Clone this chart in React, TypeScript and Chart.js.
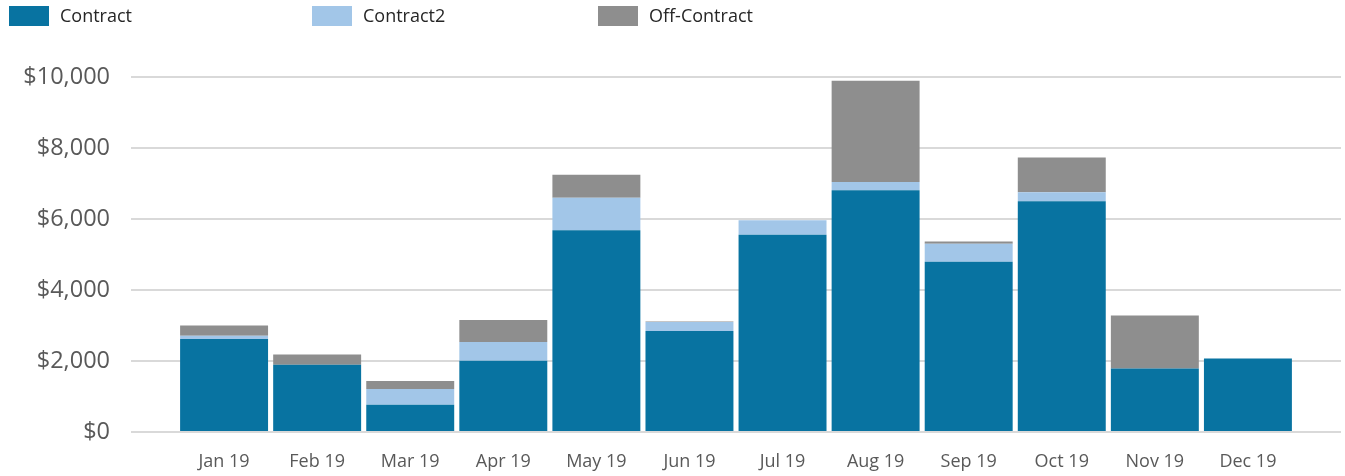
import React, { useEffect, useRef } from "react";
import { Chart, registerables } from "chart.js";

Chart.register(...registerables);

const months = ["Jan 19", "Feb 19", "Mar 19", "Apr 19", "May 19", "Jun 19", "Jul 19", "Aug 19", "Sep 19", "Oct 19", "Nov 19", "Dec 19"];
const contract = [2620, 1895, 770, 2010, 5680, 2845, 5558, 6810, 4795, 6500, 1790, 2068];
const contract2 = [93, 0, 440, 525, 920, 254, 410, 235, 505, 255, 0, 0];
const offContract = [287, 290, 225, 620, 650, 15, 0, 2850, 65, 975, 1490, 0];
const seriesNames = ["Contract", "Contract2", "Off-Contract"];
const seriesColors = ["#0873A1", "#A2C6E8", "#8E8E8E"];
const yTickValues = [0, 2000, 4000, 6000, 8000, 10000];

const FONT = "'Open Sans', 'Noto Sans', sans-serif";
const W = 1345;
const H = 476;
const legendX = [9, 312, 598];

const pad = (arr: (number | null)[]) => [null, ...arr, null];

const legendPlugin = {
  id: "fixedLegend",
  afterDraw(chart: any) {
    const ctx = chart.ctx;
    ctx.save();
    ctx.font = `18px ${FONT}`;
    ctx.textBaseline = "middle";
    ctx.textAlign = "left";
    seriesNames.forEach((name, i) => {
      const x = legendX[i];
      ctx.fillStyle = seriesColors[i];
      ctx.fillRect(x, 6, 40, 20);
      ctx.fillStyle = "#262626";
      ctx.fillText(name, x + 51, 16.5);
    });
    ctx.restore();
  },
};

export default function App() {
  const ref = useRef<HTMLCanvasElement | null>(null);

  useEffect(() => {
    if (!ref.current) return;
    const values = [contract, contract2, offContract];
    const chart = new Chart(ref.current, {
      type: "bar",
      data: {
        labels: ["", ...months, ""],
        datasets: seriesNames.map((name, i) => ({
          label: name,
          data: pad(values[i]),
          backgroundColor: seriesColors[i],
          borderWidth: 0,
          categoryPercentage: 1,
          barPercentage: 0.945,
        })),
      },
      options: {
        responsive: false,
        animation: false,
        layout: { padding: { top: 77, right: 4, bottom: 0, left: 0 } },
        plugins: {
          legend: { display: false },
          tooltip: { enabled: false },
        },
        scales: {
          x: {
            stacked: true,
            offset: false,
            grid: { display: false, drawTicks: false },
            border: { display: false },
            ticks: {
              autoSkip: false,
              maxRotation: 0,
              padding: 19,
              color: "#595959",
              font: { family: FONT, size: 18 },
            },
            afterFit(scale: any) {
              scale.height = 44;
              scale.paddingLeft = 0;
              scale.paddingRight = 0;
            },
          },
          y: {
            stacked: true,
            min: 0,
            max: 10000,
            afterBuildTicks(scale: any) {
              scale.ticks = yTickValues.map((v) => ({ value: v }));
            },
            grid: { color: "#D9D9D9", lineWidth: 2, drawTicks: false },
            border: { display: false },
            ticks: {
              padding: 21,
              color: "#595959",
              font: { family: FONT, size: 23.5 },
              callback: (v: any) => "$" + Number(v).toLocaleString("en-US"),
            },
            afterFit(scale: any) {
              scale.width = 131;
            },
          },
        },
      },
      plugins: [legendPlugin],
    });
    return () => chart.destroy();
  }, []);

  return (
    <div style={{ position: "absolute", left: 0, top: 0, width: W, height: H, background: "#fff" }}>
      <canvas ref={ref} width={W} height={H} style={{ display: "block" }} />
    </div>
  );
}
